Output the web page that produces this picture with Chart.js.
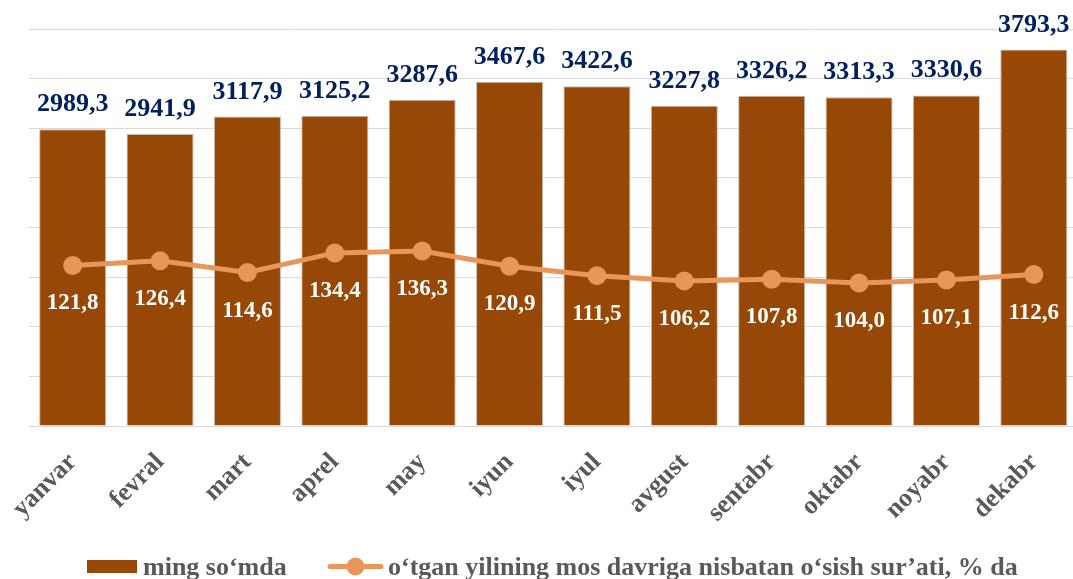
<!DOCTYPE html>
<html>
<head>
<meta charset="utf-8">
<script src="https://cdn.jsdelivr.net/npm/chart.js@4"></script>
<style>
    html, body { margin: 0; padding: 0; background: #fff; overflow: hidden; }
    #salaryChart { display: block; }
</style>
</head>
<body>
<canvas id="salaryChart" width="1087" height="579"></canvas>
<script>
// months
const months = ['yanvar', 'fevral', 'mart', 'aprel', 'may', 'iyun', 'iyul', 'avgust', 'sentabr', 'oktabr', 'noyabr', 'dekabr'];
// ming so'mda
const wages = [2989.3, 2941.9, 3117.9, 3125.2, 3287.6, 3467.6, 3422.6, 3227.8, 3326.2, 3313.3, 3330.6, 3793.3];
// growth vs same period of previous year, %
const growth = [121.8, 126.4, 114.6, 134.4, 136.3, 120.9, 111.5, 106.2, 107.8, 104.0, 107.1, 112.6];

const barLabel = 'ming so\u2018mda';
const lineLabel = 'o\u2018tgan yilining mos davriga nisbatan o\u2018sish sur\u2019ati, % da';

const barColor = '#974706';
const lineColor = '#E8965A';
const serif = '"Liberation Serif", "Times New Roman", serif';

function fmt(v) {
    return v.toFixed(1).replace('.', ',');
}

// value labels + legend, drawn by hand (no datalabels plugin available)
const labelPlugin = {
    id: 'valueLabels',
    afterDatasetsDraw(chart) {
        const ctx = chart.ctx;
        ctx.save();
        ctx.textAlign = 'center';
        ctx.textBaseline = 'alphabetic';

        const barMeta = chart.getDatasetMeta(1);
        ctx.font = 'bold 26px ' + serif;
        ctx.fillStyle = '#002060';
        barMeta.data.forEach((bar, i) => {
            ctx.fillText(fmt(wages[i]), bar.x, bar.y - 18);
        });

        const lineMeta = chart.getDatasetMeta(0);
        ctx.font = 'bold 23px ' + serif;
        ctx.fillStyle = '#ffffff';
        lineMeta.data.forEach((pt, i) => {
            ctx.fillText(fmt(growth[i]), pt.x, pt.y + 44);
        });
        ctx.restore();
    },
    afterDraw(chart) {
        const ctx = chart.ctx;
        ctx.save();
        ctx.font = 'bold 26px ' + serif;
        ctx.textBaseline = 'alphabetic';
        ctx.textAlign = 'left';

        // bar item
        ctx.fillStyle = barColor;
        ctx.fillRect(87, 560, 50, 13);
        ctx.fillStyle = '#595959';
        ctx.fillText(barLabel, 143, 575);

        // line item
        ctx.strokeStyle = lineColor;
        ctx.lineWidth = 5;
        ctx.lineCap = 'round';
        ctx.beginPath();
        ctx.moveTo(330, 566.5);
        ctx.lineTo(381, 566.5);
        ctx.stroke();
        ctx.fillStyle = lineColor;
        ctx.beginPath();
        ctx.arc(355.5, 566.5, 9, 0, Math.PI * 2);
        ctx.fill();
        ctx.fillStyle = '#595959';
        ctx.fillText(lineLabel, 388, 575);
        ctx.restore();
    }
};

const ctx = document.getElementById('salaryChart').getContext('2d');

new Chart(ctx, {
    type: 'bar',
    data: {
        labels: months,
        datasets: [{
            type: 'line',
            label: lineLabel,
            data: growth,
            yAxisID: 'y2',
            borderColor: lineColor,
            backgroundColor: lineColor,
            borderWidth: 5,
            pointRadius: 9.5,
            pointHoverRadius: 9.5,
            pointBorderWidth: 0,
            tension: 0,
            order: 1
        }, {
            type: 'bar',
            label: barLabel,
            data: wages,
            yAxisID: 'y',
            backgroundColor: barColor,
            borderColor: '#C9B8AA',
            borderWidth: 1,
            categoryPercentage: 1,
            barPercentage: 0.767,
            order: 2
        }]
    },
    options: {
        responsive: false,
        animation: false,
        layout: {
            padding: { top: 29, left: 29, right: 2, bottom: 0 }
        },
        plugins: {
            legend: { display: false },
            tooltip: { enabled: false }
        },
        scales: {
            x: {
                grid: { display: false, drawTicks: false },
                border: { display: true, color: '#D9D9D9', width: 1 },
                ticks: {
                    minRotation: 45,
                    maxRotation: 45,
                    padding: 21,
                    color: '#595959',
                    font: { family: serif, size: 26, weight: 'bold' }
                },
                afterFit(scale) {
                    scale.height = 153;
                    scale.paddingLeft = 0;
                    scale.paddingRight = 0;
                }
            },
            y: {
                min: 0,
                max: 4000,
                ticks: { display: false, stepSize: 500 },
                grid: { color: '#D9D9D9', lineWidth: 1, drawTicks: false },
                border: { display: false }
            },
            y2: {
                display: false,
                min: -40,
                max: 360
            }
        }
    },
    plugins: [labelPlugin]
});
</script>
</body>
</html>
